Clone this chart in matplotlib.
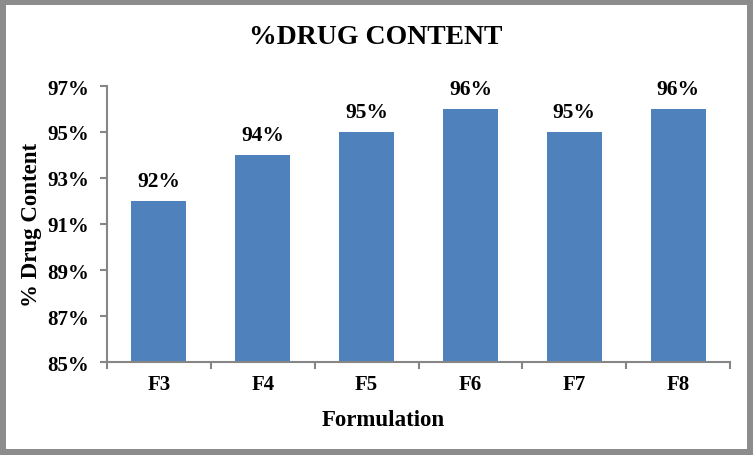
import numpy as np
import matplotlib.pyplot as plt
from matplotlib.patches import Rectangle

formulations = ['F3', 'F4', 'F5', 'F6', 'F7', 'F8']
drug_content = [92, 94, 95, 96, 95, 96]
yticks = [85, 87, 89, 91, 93, 95, 97]

plt.rcParams['font.family'] = ['Liberation Serif', 'DejaVu Serif']
plt.rcParams['font.weight'] = 'bold'

fig = plt.figure(figsize=(7.53, 4.56), dpi=100)
fig.patch.set_facecolor('#8c8c8c')
# white chart area inside the grey frame
fig.patches.append(Rectangle((6 / 753, 1 - 450 / 456), 741 / 753, 444 / 456,
                             transform=fig.transFigure, facecolor='white',
                             edgecolor='none', zorder=-5))

ax = fig.add_axes([107 / 753, 1 - 363 / 456, 623 / 753, 276 / 456])
ax.set_zorder(2)
ax.patch.set_alpha(0)
x = np.arange(len(formulations))
ax.bar(x, drug_content, width=0.53, color='#4F81BD', bottom=0)

for xi, v in zip(x, drug_content):
    ax.text(xi, v + 0.42, f'{v}%', ha='center', va='bottom', fontsize=15.5, fontweight='bold')

ax.set_ylim(85, 97)
ax.set_yticks(yticks)
ax.set_yticklabels([f'{t}%' for t in yticks], fontsize=15, fontweight='bold')
ax.set_xlim(-0.5, len(formulations) - 0.5)
ax.set_xticks(x)
ax.set_xticklabels(formulations, fontsize=15, fontweight='bold')
ax.set_xticks(np.arange(-0.5, len(formulations)), minor=True)
ax.tick_params(axis='x', which='major', length=0, pad=9)
ax.tick_params(axis='x', which='minor', length=5, width=1.5, color='#868686', direction='out')
ax.tick_params(axis='y', length=5, width=1.5, color='#868686', direction='out', pad=8)

for side in ['top', 'right']:
    ax.spines[side].set_visible(False)
for side in ['left', 'bottom']:
    ax.spines[side].set_color('#868686')
    ax.spines[side].set_linewidth(1.5)

ax.set_xlabel('Formulation', fontsize=16.5, fontweight='bold')
ax.xaxis.set_label_coords(0.443, -0.17)
ax.set_ylabel('% Drug Content', fontsize=16.5, fontweight='bold', labelpad=4)
fig.text(376 / 753, 1 - 38 / 456, '%DRUG CONTENT', ha='center', va='center',
         fontsize=20, fontweight='bold')

fig.savefig('out.png', dpi=100, facecolor=fig.get_facecolor())
